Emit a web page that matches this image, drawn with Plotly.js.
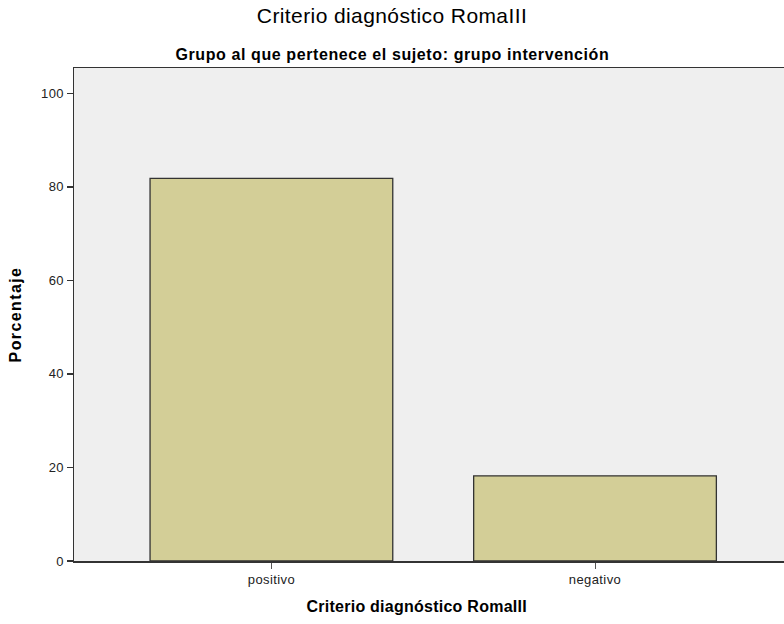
<!DOCTYPE html>
<html>
<head>
<meta charset="utf-8">
<script src="https://cdn.plot.ly/plotly-3.0.1.min.js"></script>
<style>
html,body{margin:0;padding:0;background:#fff;}
#chart{width:784px;height:624px;}
#chart .gtitle{letter-spacing:0.4px;}
#chart .annotation[data-index="0"] .annotation-text{letter-spacing:0.6px;}
#chart .annotation[data-index="1"] .annotation-text{letter-spacing:0.25px;}
#chart .ytitle{letter-spacing:1.4px;}
#chart .xtick text, #chart .ytick text{letter-spacing:0.4px;}
</style>
</head>
<body>
<div id="chart"></div>
<script>
const categories = ["positivo", "negativo"];
const percentages = [81.8, 18.2];
const yTicks = [0, 20, 40, 60, 80, 100];

const trace = {
  type: "bar",
  x: categories,
  y: percentages,
  width: 0.75,
  marker: { color: "#d3ce97", line: { color: "#333333", width: 1.3 } },
  hoverinfo: "x+y"
};

const layout = {
  width: 784, height: 624,
  margin: { l: 74, r: 0, t: 68, b: 63 },
  paper_bgcolor: "#ffffff",
  plot_bgcolor: "#efefef",
  font: { family: "Liberation Sans, Arial, sans-serif", color: "#000" },
  title: { text: "Criterio diagnóstico RomaIII", font: { size: 21, color: "#000" }, x: 0.5, xanchor: "center", xref: "container", y: 0.975, yanchor: "middle", yref: "container" },
  annotations: [
    {
      text: "<b>Grupo al que pertenece el sujeto: grupo intervención</b>",
      xref: "paper", yref: "paper", x: 0.448, xanchor: "center",
      y: 1, yanchor: "bottom", yshift: 3, showarrow: false,
      font: { size: 16, color: "#000" }
    },
    {
      text: "<b>Criterio diagnóstico RomaIII</b>",
      xref: "paper", yref: "paper", x: 0.483, xanchor: "center",
      y: 0, yanchor: "middle", yshift: -45, showarrow: false,
      font: { size: 16, color: "#000" }
    }
  ],
  bargap: 0.25,
  showlegend: false,
  xaxis: {
    type: "category",
    range: [-0.61, 1.584],
    showline: true, linecolor: "#333333", linewidth: 1.5, mirror: true,
    ticks: "outside", ticklen: 6, tickcolor: "#555", tickwidth: 1,
    tickfont: { size: 13, color: "#222" },
    showgrid: false, zeroline: false
  },
  yaxis: {
    range: [0, 105.4],
    tickvals: yTicks,
    ticktext: yTicks.map(String),
    showline: true, linecolor: "#333333", linewidth: 1.5, mirror: true,
    ticks: "outside", ticklen: 6, tickcolor: "#333", tickwidth: 1.5,
    tickfont: { size: 13, color: "#222" },
    showgrid: false, zeroline: false,
    title: { text: "<b>Porcentaje</b>", font: { size: 16, color: "#000" }, standoff: 16 }
  }
};

Plotly.newPlot("chart", [trace], layout, { displayModeBar: false, staticPlot: true });
</script>
</body>
</html>
